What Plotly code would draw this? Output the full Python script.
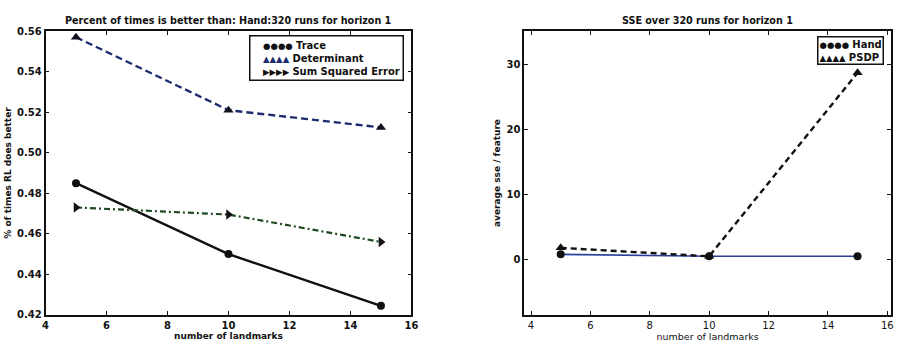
import plotly.graph_objects as go

landmarks = [5, 10, 15]
trace_vals = [0.485, 0.450, 0.4245]
det_vals = [0.557, 0.521, 0.5125]
sse_vals = [0.473, 0.4695, 0.456]

hand_vals = [0.8, 0.5, 0.5]
psdp_vals = [1.8, 0.5, 28.7]

left_xticks = [4, 6, 8, 10, 12, 14, 16]
left_yticks = [0.42, 0.44, 0.46, 0.48, 0.50, 0.52, 0.54, 0.56]
right_yticks = [0, 10, 20, 30]

left_names = ["Trace", "Determinant", "Sum Squared Error"]
right_names = ["Hand", "PSDP"]

W, H = 908, 348
FONT = "DejaVu Sans"

C_TRACE = "#111111"
C_DET = "#1c2a6e"
C_SSE = "#1f4a1f"
C_HAND = "#2a3f9a"
C_PSDP = "#111111"

fig = go.Figure()

# Left panel
fig.add_trace(go.Scatter(x=landmarks, y=trace_vals, name=left_names[0], mode="lines+markers",
                         line=dict(color=C_TRACE, width=2.4),
                         marker=dict(symbol="circle", size=8, color="#111111"),
                         xaxis="x", yaxis="y"))
fig.add_trace(go.Scatter(x=landmarks, y=det_vals, name=left_names[1], mode="lines+markers",
                         line=dict(color=C_DET, width=2.4, dash="7px,4px"),
                         marker=dict(symbol="triangle-up", size=9, color="#111122"),
                         xaxis="x", yaxis="y"))
fig.add_trace(go.Scatter(x=landmarks, y=sse_vals, name=left_names[2], mode="lines+markers",
                         line=dict(color=C_SSE, width=2.2, dash="6px,3px,2px,3px"),
                         marker=dict(symbol="triangle-right", size=9, color="#111111"),
                         xaxis="x", yaxis="y"))

# Right panel
fig.add_trace(go.Scatter(x=landmarks, y=hand_vals, name=right_names[0], mode="lines+markers",
                         line=dict(color=C_HAND, width=1.6),
                         marker=dict(symbol="circle", size=8, color="#111111"),
                         xaxis="x2", yaxis="y2"))
fig.add_trace(go.Scatter(x=landmarks, y=psdp_vals, name=right_names[1], mode="lines+markers",
                         line=dict(color=C_PSDP, width=2.4, dash="6px,4px"),
                         marker=dict(symbol="triangle-up", size=9, color="#111111"),
                         xaxis="x2", yaxis="y2"))

ax_common = dict(showline=True, linecolor="#111111", linewidth=1.5, mirror="ticks",
                 ticks="inside", ticklen=4, tickcolor="#111111", showgrid=False,
                 zeroline=False)

y_bot = 1 - 320 / H
y_top = 1 - 27 / H


def key(sym, color, label, lead=""):
    return (f"{lead}<span style='font-size:8.5px;color:{color}'>{sym * 4}</span> "
            f"<b>{label}</b>")


LEAD = "\u00a0\u00a0\u00a0"
left_legend = "<br>".join([
    key("●", "#111111", left_names[0], LEAD),
    key("▲", C_DET, left_names[1], LEAD),
    key("▶", "#111111", left_names[2], LEAD),
])
right_legend = "<br>".join([
    key("●", "#111111", right_names[0]),
    key("▲", "#111111", right_names[1]),
])

fig.update_layout(
    width=W, height=H,
    margin=dict(l=0, r=0, t=0, b=0),
    paper_bgcolor="white", plot_bgcolor="white",
    showlegend=False,
    font=dict(family=FONT, size=10, color="#111111"),
    xaxis=dict(domain=[43 / W, 413 / W], range=[4, 16], tickvals=left_xticks,
               anchor="y", tickfont=dict(size=10, weight="bold"),
               title=dict(text="number of landmarks", standoff=2,
                          font=dict(size=9, weight="bold")), **ax_common),
    yaxis=dict(domain=[y_bot, y_top], range=[0.42, 0.56], tickvals=left_yticks,
               tickformat=".2f", anchor="x", tickfont=dict(size=10, weight="bold"),
               title=dict(text="% of times RL does better", standoff=4,
                          font=dict(size=9, weight="bold")), **ax_common),
    xaxis2=dict(domain=[527 / W, 898 / W], range=[3.77, 16.13], tickvals=left_xticks,
                anchor="y2", tickfont=dict(size=10),
                title=dict(text="number of landmarks", standoff=2,
                           font=dict(size=9.5)),
                **ax_common),
    yaxis2=dict(domain=[y_bot, y_top], range=[-8.5, 35.1], tickvals=right_yticks,
                anchor="x2", tickfont=dict(size=10, weight="bold"),
                title=dict(text="average sse / feature", standoff=4,
                           font=dict(size=9, weight="bold")),
                **ax_common),
    annotations=[
        dict(text="<b>Percent of times is better than: Hand:320 runs for horizon 1</b>",
             x=228 / W, y=1 - 16 / H, xref="paper", yref="paper", showarrow=False,
             font=dict(size=9.6), xanchor="center", yanchor="middle"),
        dict(text="<b>SSE over 320 runs for horizon 1</b>",
             x=712 / W, y=1 - 16 / H, xref="paper", yref="paper", showarrow=False,
             font=dict(size=9.6), xanchor="center", yanchor="middle"),
        dict(text=left_legend, x=405 / W, y=1 - 31 / H, xref="paper", yref="paper",
             showarrow=False, xanchor="right", yanchor="top", align="left",
             font=dict(size=10), bgcolor="white", bordercolor="#111111",
             borderwidth=1.5, borderpad=3),
        dict(text=right_legend, x=891 / W, y=1 - 32 / H, xref="paper", yref="paper",
             showarrow=False, xanchor="right", yanchor="top", align="left",
             font=dict(size=10), bgcolor="white", bordercolor="#111111",
             borderwidth=1.5, borderpad=1),
    ],
)

fig.write_html("out.html")
